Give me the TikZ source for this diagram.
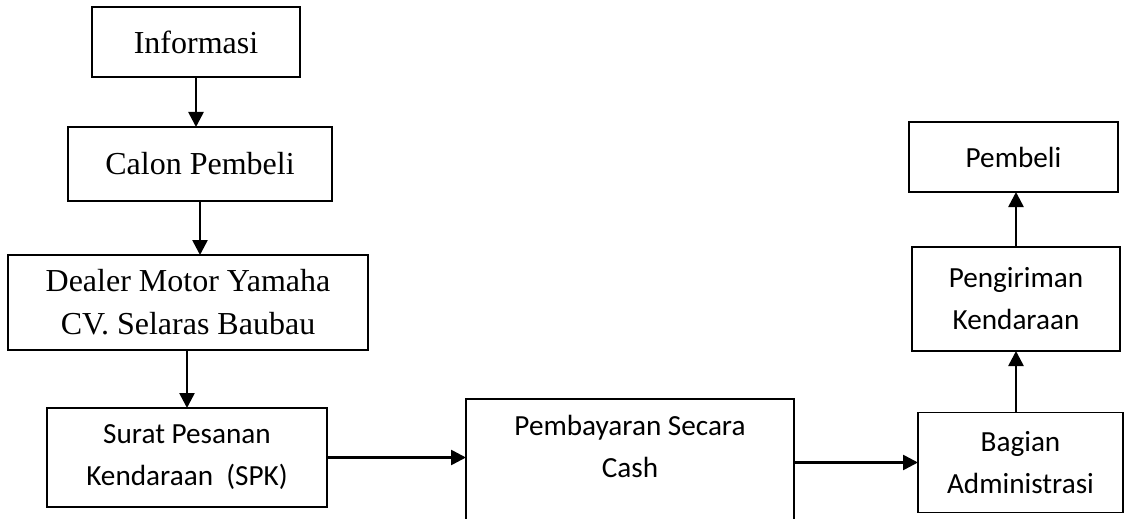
\documentclass[tikz,border=0pt]{standalone}
\usepackage{fontspec}
\setmainfont{Liberation Serif}
\newfontfamily\calibri{Carlito}
\usepackage{tikz}
\usetikzlibrary{arrows.meta}

\begin{document}
\begin{tikzpicture}[x=0.5pt, y=-0.5pt,
				>={Triangle[length=7.5pt, width=7.5pt]},   %Pfeilspitzen
				kotak/.style={draw, line width=0.85pt, inner sep=0pt, outer sep=0pt, align=center},
				serif/.style={kotak, font=\fontsize{16}{21.5}\selectfont},
				sans/.style={kotak, font=\calibri\fontsize{14.6}{21}\selectfont},
				panah/.style={->, line width=1.3pt}]
				%Bildbereich
				\useasboundingbox (0,0) rectangle (1125,519);
				\clip (0,0) rectangle (1125,519);
				% Kotak kiri
				\node[serif, minimum width=104pt, minimum height=35pt] (info) at (196,42) {Informasi};
				\node[serif, minimum width=132pt, minimum height=37pt] (calon) at (200,164) {Calon Pembeli};
				\node[serif, minimum width=180pt, minimum height=47.5pt] (dealer) at (188,302.5) {Dealer Motor Yamaha\\CV. Selaras Baubau};
				\node[sans, minimum width=140pt, minimum height=49.5pt] (surat) at (187,457.5) {Surat Pesanan\\Kendaraan\ \ (SPK)};
				% Kotak tengah
				\node[sans, minimum width=164pt, minimum height=80pt, anchor=north,
					label={[font=\calibri\fontsize{14.6}{21}\selectfont, align=center, inner sep=0pt, anchor=north, yshift=-8pt]north:{Pembayaran Secara\\Cash}}] (bayar) at (630,399) {};
				% Kotak kanan
				\node[sans, minimum width=102.5pt, minimum height=50pt] (admin) at (1020.5,462.5) {Bagian\\Administrasi};
				\node[sans, minimum width=104pt, minimum height=52pt] (kirim) at (1016,299) {Pengiriman\\Kendaraan};
				\node[sans, minimum width=104.5pt, minimum height=35pt] (pembeli) at (1013.5,157) {Pembeli};
				% Pfeile
				\draw[panah] (info.south) -- (info.south |- calon.north);
				\draw[panah] (calon.south) -- (calon.south |- dealer.north);
				\draw[panah] (dealer.south -| surat.north) -- (surat.north);
				\draw[panah] (surat.east) -- (surat.east -| bayar.west);
				\draw[panah] (admin.west -| bayar.east) -- (admin.west);
				\draw[panah] (admin.north -| kirim.south) -- (kirim.south);
				\draw[panah] (kirim.north) -- (kirim.north |- pembeli.south);
			\end{tikzpicture}
\end{document}
